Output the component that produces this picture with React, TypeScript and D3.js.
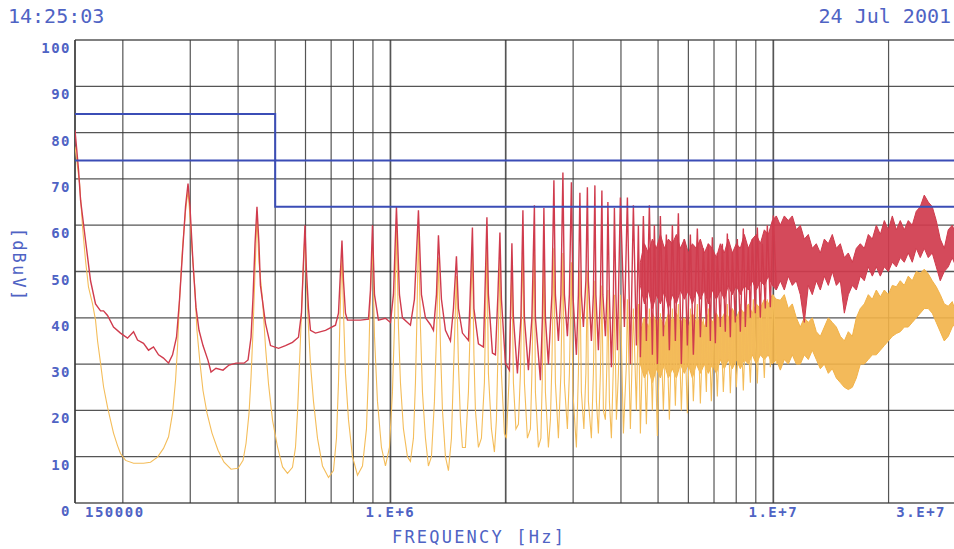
import * as d3 from "d3";

// header / titles
const timeStamp = "14:25:03";
const dateStamp = "24 Jul 2001";
const xTitle = "FREQUENCY [Hz]";
const yTitle = "[dBuV]";

const yTicks = [0, 10, 20, 30, 40, 50, 60, 70, 80, 90, 100];
// vertical grid lines, MHz
const gridFreqs = [0.2, 0.3, 0.4, 0.5, 0.6, 0.7, 0.8, 0.9, 1, 2, 3, 4, 5, 6, 7, 8, 9, 10, 20];
const xTickLabels = [
  { f: 0.15, label: "150000", anchor: "start", dx: 10 },
  { f: 1, label: "1.E+6", anchor: "middle", dx: 0 },
  { f: 10, label: "1.E+7", anchor: "middle", dx: 0 },
  { f: 30, label: "3.E+7", anchor: "end", dx: -10 },
];

// limit lines [MHz, dBuV]
const limitQP: [number, number][] = [[0.15, 84], [0.5, 84], [0.5, 74], [30, 74]];
const limitAV: [number, number][] = [[0.15, 74], [0.5, 74], [0.5, 64], [30, 64]];

// peak detector trace (red), [MHz, dBuV]
const peakTrace: [number, number][] = [
  [0.15, 80.5], [0.1532, 72], [0.1551, 65.4], [0.1598, 56.7], [0.1647, 48], [0.1697, 43], [0.1749, 41.5],
  [0.1781, 41.5], [0.1824, 40.5], [0.1891, 38], [0.1972, 36.7], [0.2057, 35.6], [0.2133, 37], [0.2185, 35.2],
  [0.2265, 34.5], [0.2334, 33], [0.2405, 33.7], [0.2479, 32], [0.2554, 31.3], [0.2633, 30.2], [0.2697, 32],
  [0.2762, 35.8], [0.2812, 43.8], [0.2863, 54], [0.2916, 64], [0.296, 69], [0.2995, 64], [0.3049, 52],
  [0.3105, 42.3], [0.3162, 37.3], [0.3239, 34], [0.3338, 30.8], [0.3399, 28.3], [0.3502, 29.1], [0.3653, 28.7],
  [0.3788, 29.8], [0.3951, 30.2], [0.4146, 30.2], [0.4247, 30.9], [0.4324, 35.8], [0.4376, 44.5], [0.4429, 56],
  [0.4481, 64], [0.4535, 56], [0.4575, 47], [0.4717, 38.8], [0.4861, 34], [0.5102, 33.4], [0.5319, 34],
  [0.5548, 34.7], [0.5751, 35.8], [0.5856, 41], [0.5927, 52], [0.598, 60], [0.6035, 50], [0.6108, 42],
  [0.6182, 37.3], [0.6371, 36.7], [0.6766, 37.3], [0.7185, 38.4], [0.7316, 41], [0.7404, 50], [0.7471, 56.7],
  [0.7539, 48], [0.763, 41], [0.7722, 39.5], [0.8349, 39.5], [0.8761, 39.7], [0.8867, 46], [0.8975, 60],
  [0.9084, 45], [0.9304, 39.5], [0.9704, 39.9], [1.0, 39], [1.0182, 45], [1.0367, 63.9], [1.0556, 45],
  [1.0748, 40], [1.1277, 38.4], [1.1551, 44], [1.1833, 63.2], [1.2049, 45], [1.2343, 40], [1.2719, 38.5],
  [1.2951, 37.3], [1.3187, 45], [1.3346, 57.8], [1.3589, 44], [1.392, 37.3], [1.4344, 35], [1.4605, 42],
  [1.4871, 53.3], [1.5051, 42], [1.5417, 36.7], [1.5983, 35.1], [1.6127, 43], [1.6371, 59.5], [1.652, 42],
  [1.6973, 34.4], [1.7491, 33.7], [1.7649, 45], [1.7863, 61.7], [1.8025, 45], [1.8464, 32.4], [1.88, 32],
  [1.9085, 45], [1.9316, 58.4], [1.9491, 44], [1.9965, 30.2], [2.0452, 28.7], [2.0574, 40], [2.076, 56.1],
  [2.0949, 40], [2.1458, 28], [2.1915, 40], [2.218, 63.2], [2.2381, 40], [2.2926, 28.7], [2.3412, 40],
  [2.3767, 64.3], [2.3911, 40], [2.4641, 26.5], [2.4938, 40], [2.5164, 63.7], [2.5393, 40], [2.5855, 30],
  [2.6405, 45], [2.6725, 69.7], [2.6967, 45], [2.7458, 35], [2.7873, 45], [2.8211, 71.4], [2.8466, 45],
  [2.8983, 36], [2.9334, 45], [2.9689, 69.3], [2.9958, 45], [3.0596, 32], [3.0966, 45], [3.1247, 67],
  [3.1528, 45], [3.191, 38], [3.2394, 48], [3.2687, 68.2], [3.2884, 48], [3.3483, 35], [3.3888, 45],
  [3.4195, 68.6], [3.4401, 45], [3.4922, 33], [3.5345, 45], [3.5665, 67.5], [3.588, 45], [3.6423, 36],
  [3.6753, 45], [3.6975, 65], [3.731, 45], [3.7764, 29.3], [3.8221, 45], [3.8452, 63.7], [3.88, 45],
  [3.9151, 33], [3.9863, 66], [4.0834, 38], [4.1577, 66], [4.2331, 30], [4.3101, 64.3], [4.3886, 34],
  [4.4417, 60], [4.4954, 31.5], [4.5772, 62], [4.6605, 35], [4.7453, 64.3], [4.8316, 32], [4.8901, 60],
  [4.9791, 30], [5.0697, 62], [5.162, 36], [5.2559, 58], [5.3516, 33], [5.449, 60], [5.5482, 35],
  [5.6491, 62.6], [5.7519, 30], [5.8566, 57], [5.9632, 34], [6.0717, 58], [6.1822, 32], [6.3325, 59.3],
  [6.4478, 35.8], [6.5651, 55], [6.6846, 38], [6.7654, 56], [6.8472, 35], [6.93, 57.4], [7.056, 34.5],
  [7.1413, 54], [7.2713, 38], [7.3592, 56], [7.493, 37], [7.5836, 58.2], [7.7216, 35.8], [7.8149, 54],
  [7.9571, 39], [8.0533, 57], [8.2, 37], [8.3491, 59.3], [8.45, 38], [8.6037, 55], [8.7097, 40], [8.815, 57],
  [8.9743, 41], [9.0828, 59.5], [9.2481, 40], [9.3599, 56], [9.5302, 42], [9.6454, 60], [9.8214, 42.3],
  [10.0, 62.1], [10.182, 46],
];

// average detector trace (orange), [MHz, dBuV]
const avgTrace: [number, number][] = [
  [0.15, 77], [0.1542, 69], [0.157, 59.5], [0.1598, 52.4], [0.1627, 46.6], [0.1667, 43], [0.1697, 39.5],
  [0.1718, 35], [0.1749, 30.2], [0.1781, 25.1], [0.1824, 20.7], [0.1857, 17.9], [0.1891, 15.1], [0.1937, 12.4],
  [0.1972, 10.7], [0.2033, 9.2], [0.2133, 8.6], [0.2265, 8.6], [0.2362, 8.8], [0.2464, 9.9], [0.2554, 11.8],
  [0.2633, 14.3], [0.2697, 19.4], [0.2746, 26.5], [0.2779, 33.7], [0.2812, 43.8], [0.2863, 55], [0.2916, 63],
  [0.296, 67.5], [0.2995, 62], [0.3031, 55], [0.3086, 46], [0.3123, 37.3], [0.3181, 30.2], [0.3239, 24.3],
  [0.3318, 19.4], [0.3419, 15.1], [0.3545, 11.4], [0.3675, 8.8], [0.3834, 7.3], [0.3999, 7.5], [0.4121, 9.2],
  [0.4196, 12.9], [0.4272, 19.4], [0.4324, 27.2], [0.4376, 37.3], [0.4429, 50], [0.4481, 62], [0.4535, 52],
  [0.4634, 43.8], [0.4717, 33.7], [0.4802, 25.8], [0.492, 17.9], [0.5071, 12.1], [0.5226, 7.8], [0.5384, 6.4],
  [0.5548, 7.7], [0.5649, 12], [0.5717, 19.4], [0.5786, 30], [0.5856, 41], [0.5927, 52], [0.598, 58],
  [0.6035, 47], [0.6108, 38], [0.6182, 30], [0.6294, 22], [0.6448, 14], [0.6645, 8], [0.6889, 5.5],
  [0.7099, 7], [0.7228, 14], [0.7316, 26], [0.7382, 40], [0.7471, 54], [0.7561, 38], [0.763, 28], [0.7769, 18],
  [0.7959, 10], [0.8202, 6], [0.8451, 8], [0.8656, 16], [0.8761, 28], [0.884, 42], [0.8975, 56], [0.9084, 36],
  [0.9248, 22], [0.9473, 12], [0.9704, 8], [0.994, 12], [1.0121, 24], [1.0243, 38], [1.0367, 60], [1.0493, 38],
  [1.062, 26], [1.0813, 16], [1.1076, 10], [1.1277, 9], [1.1482, 14], [1.1622, 26], [1.1727, 40], [1.1833, 59],
  [1.1977, 38], [1.2122, 24], [1.2343, 14], [1.2564, 8], [1.2795, 10], [1.3029, 22], [1.3187, 36], [1.3346, 53],
  [1.3508, 34], [1.3672, 20], [1.392, 10], [1.4173, 7], [1.4431, 14], [1.4605, 28], [1.4871, 49], [1.5051, 30],
  [1.5233, 18], [1.5417, 12], [1.5697, 12], [1.5983, 24], [1.6127, 36], [1.6371, 55], [1.652, 32], [1.667, 20],
  [1.6973, 12], [1.7282, 14], [1.7596, 26], [1.7863, 57], [1.8025, 28], [1.8353, 16], [1.8687, 11], [1.8913, 18],
  [1.9085, 32], [1.9316, 53], [1.9491, 28], [1.9845, 15], [2.0086, 14], [2.039, 26], [2.076, 51], [2.0949, 26],
  [2.1266, 16], [2.1588, 17], [2.1849, 28], [2.218, 56], [2.2381, 26], [2.2788, 14], [2.3203, 16], [2.3412, 28],
  [2.3767, 57], [2.3911, 24], [2.4346, 12], [2.4715, 14], [2.4938, 28], [2.5164, 55], [2.5393, 24], [2.5855, 12],
  [2.6168, 18], [2.6405, 30], [2.6725, 55], [2.6967, 26], [2.7458, 14], [2.7873, 28], [2.8211, 54], [2.8466, 26],
  [2.8983, 16], [2.9334, 28], [2.9689, 52], [2.9958, 24], [3.0596, 12], [3.0966, 28], [3.1247, 50], [3.1528, 24],
  [3.2006, 16], [3.2394, 28], [3.2687, 50], [3.2884, 22], [3.3483, 14], [3.3888, 28], [3.4195, 48], [3.4505, 22],
  [3.4922, 15], [3.5345, 28], [3.5665, 47], [3.5989, 20], [3.6423, 18], [3.6753, 30], [3.6975, 46], [3.731, 22],
  [3.7764, 14], [3.8221, 30], [3.8452, 45], [3.8917, 18], [3.9387, 28], [3.9863, 45], [4.0589, 15], [4.1328, 30],
  [4.1577, 44], [4.2331, 16], [4.3101, 42], [4.3886, 20], [4.4417, 43], [4.4954, 15], [4.5772, 40], [4.6605, 17],
  [4.7453, 42], [4.8316, 20], [4.8901, 40], [4.9791, 14.5], [5.0697, 41], [5.162, 20], [5.2559, 40], [5.3516, 18],
  [5.449, 42], [5.5482, 21], [5.6491, 43], [5.7519, 20], [5.8566, 40], [5.9632, 19.4], [6.0717, 42], [6.1822, 22],
  [6.3325, 43], [6.4478, 21.5], [6.5651, 40], [6.6846, 24], [6.7654, 42], [6.8885, 22], [7.0138, 41], [7.1413, 23],
  [7.2713, 42], [7.4035, 24], [7.5836, 43], [7.7216, 23.7], [7.862, 41], [8.005, 25], [8.2, 43], [8.3491, 24.3],
  [8.5009, 42], [8.7097, 26], [8.8681, 44], [9.0828, 25.8], [9.2481, 45], [9.4731, 27], [9.6454, 44],
  [9.8214, 29.3], [10.0, 45], [10.182, 30],
];

// from ~4.5 MHz up both traces merge into a dense band: upper / lower edge per frequency (MHz)
const bandFreqs = [
  4.495, 4.606, 4.717, 4.832, 4.95, 5.07, 5.193, 5.32, 5.449, 5.582, 5.718, 5.857, 6.0, 6.145, 6.295, 6.448,
  6.605, 6.766, 6.93, 7.099, 7.271, 7.448, 7.629, 7.815, 8.005, 8.2, 8.399, 8.604, 8.813, 9.028, 9.248, 9.473,
  9.704, 9.94, 10.182, 10.43, 10.684, 10.943, 11.21, 11.483, 11.762, 12.048, 12.342, 12.642, 12.95, 13.267,
  13.59, 13.92, 14.259, 14.607, 14.963, 15.327, 15.7, 16.082, 16.474, 16.874, 17.285, 17.706, 18.137, 18.579,
  19.031, 19.494, 19.969, 20.455, 20.953, 21.458, 21.98, 22.515, 23.064, 23.624, 24.2, 24.789, 25.391, 26.009,
  26.642, 27.29, 27.955, 28.635, 29.332, 30.0,
];
const peakBandHi = [
  52, 56, 54, 57, 55, 58, 55, 57, 56, 58, 55, 57, 54, 56, 55, 57, 54, 56, 55, 53, 56, 54, 57, 54, 56, 55, 58,
  55, 57, 58, 56, 59, 58, 61, 62, 60, 62, 61, 62, 59, 60, 57, 58, 55, 56, 54, 57, 56, 58, 55, 56, 53, 54, 52,
  55, 56, 55, 58, 57, 60, 58, 61, 59, 62, 59, 61, 59, 61, 60, 63, 64, 66.5, 65, 64, 61, 57, 55, 59, 60, 58,
];
const peakBandLo = [
  47, 43, 46, 42, 45, 43, 46, 42, 45, 43, 46, 44, 46, 43, 46, 44, 46, 43, 46, 44, 46, 44, 47, 45, 47, 45, 47,
  46, 48, 46, 48, 47, 49, 47, 46, 48, 46, 49, 47, 48, 45, 39, 47, 45, 48, 46, 49, 47, 50, 47, 48, 41, 45, 47,
  46, 49, 48, 51, 49, 51, 49, 51, 50, 52, 51, 53, 52, 54, 52, 55, 53, 55, 53, 54, 51, 48, 50, 51, 53, 51,
];
const avgBandHi = [
  37, 40, 38, 41, 39, 40, 38, 41, 39, 41, 39, 40, 38, 41, 39, 40, 38, 41, 39, 41, 39, 41, 40, 42, 40, 42, 41,
  43, 41, 43, 42, 44, 43, 45, 44, 43.8, 45, 42, 43, 40, 38, 40, 39, 40, 37, 36, 38, 40, 39, 38, 36, 35, 37,
  36, 40, 42, 43, 45, 44, 46, 44.5, 46, 45, 47, 46.7, 48, 47, 49, 48, 50, 49.6, 50.5, 49.5, 48, 46.7, 45, 43,
  42.5, 43.5, 41,
];
const avgBandLo = [
  30, 27, 29, 26, 29, 27, 30, 27, 29, 27, 30, 28, 30, 27, 30, 28, 30, 28, 30, 28, 31, 29, 31, 29, 31, 29, 31,
  30, 32, 30, 32, 31, 32, 30, 31, 28.7, 31, 30, 32, 30, 30, 32, 31, 33, 31, 29, 30, 28, 29, 27, 26, 25, 24.5,
  25, 27, 30, 30, 31, 32, 32, 33, 34, 35, 36, 36.6, 37, 38, 38, 39, 40, 41, 42, 42, 41, 39, 37, 35, 36, 38,
  38.9,
];

const W = 954;
const H = 549;
const plot = { left: 75, right: 956, top: 40, bottom: 503 };

const BLUE_TEXT = "#4f63c4";
const LIMIT = "#3b4db6";
const GRID = "#383838";
const RED = "#d03b4d";
const ORANGE = "#f2b248";
const ORANGE_LINE = "#f4bd5a";
const mono = "'DejaVu Sans Mono', monospace";

export default function App() {
  const x = d3.scaleLog().domain([0.15, 30]).range([plot.left, plot.right]);
  const y = d3.scaleLinear().domain([0, 100]).range([plot.bottom, plot.top]);

  const line = d3
    .line<[number, number]>()
    .x((d) => x(d[0]))
    .y((d) => y(d[1]));

  const band = (hi: number[], lo: number[]) =>
    d3
      .area<number>()
      .x((f) => x(f))
      .y0((_, i) => y(lo[i]))
      .y1((_, i) => y(hi[i]))(bandFreqs) || "";

  return (
    <svg
      width={W}
      height={H}
      style={{ position: "absolute", left: 0, top: 0, background: "#fff" }}
    >
      <defs>
        <clipPath id="plotClip">
          <rect x={plot.left} y={plot.top - 2} width={W - plot.left} height={plot.bottom - plot.top + 4} />
        </clipPath>
      </defs>

      {/* grid */}
      <g>
        {yTicks.map((t) => (
          <line
            key={"h" + t}
            x1={plot.left}
            x2={W}
            y1={y(t)}
            y2={y(t)}
            stroke={GRID}
            strokeWidth={t === 0 || t === 100 ? 1.6 : 1.3}
            opacity={0.85}
          />
        ))}
        {gridFreqs.map((f) => (
          <line
            key={"v" + f}
            x1={x(f)}
            x2={x(f)}
            y1={plot.top}
            y2={plot.bottom}
            stroke={GRID}
            strokeWidth={f === 1 || f === 10 || f === 2 ? 1.7 : 1.2}
            opacity={0.85}
          />
        ))}
        <line x1={plot.left} x2={plot.left} y1={plot.top} y2={plot.bottom} stroke={GRID} strokeWidth={1.7} />
      </g>

      {/* traces */}
      <g clipPath="url(#plotClip)">
        <path d={band(avgBandHi, avgBandLo)} fill={ORANGE} fillOpacity={0.9} stroke={ORANGE} strokeWidth={1} />
        <path d={line(avgTrace) || ""} fill="none" stroke={ORANGE_LINE} strokeWidth={1.1} />
        <path d={band(peakBandHi, peakBandLo)} fill={RED} fillOpacity={0.92} stroke={RED} strokeWidth={1} />
        <path d={line(peakTrace) || ""} fill="none" stroke={RED} strokeWidth={1.4} />
      </g>

      {/* limit lines */}
      <g clipPath="url(#plotClip)">
        <path d={line(limitQP) || ""} fill="none" stroke={LIMIT} strokeWidth={2} />
        <path d={line(limitAV) || ""} fill="none" stroke={LIMIT} strokeWidth={2} />
      </g>

      {/* y tick labels */}
      <g fontFamily={mono} fontSize={14} fill={BLUE_TEXT} fontWeight="bold">
        {yTicks.map((t) => (
          <text key={"yl" + t} x={71} y={y(t) + 13} textAnchor="end" letterSpacing={1.5}>
            {t}
          </text>
        ))}
      </g>

      {/* x tick labels */}
      <g fontFamily={mono} fontSize={14} fill={BLUE_TEXT} fontWeight="bold">
        {xTickLabels.map((t) => (
          <text
            key={t.label}
            x={x(t.f) + t.dx}
            y={plot.bottom + 14}
            textAnchor={t.anchor as any}
            letterSpacing={1.5}
          >
            {t.label}
          </text>
        ))}
      </g>

      {/* titles */}
      <text x={392} y={543} fontFamily={mono} fontSize={17} fill={BLUE_TEXT} letterSpacing={2.2}>
        {xTitle}
      </text>
      <text
        transform="translate(13,265) rotate(90)"
        textAnchor="middle"
        fontFamily={mono}
        fontSize={17}
        fill={BLUE_TEXT}
        letterSpacing={2.2}
      >
        {yTitle}
      </text>
      <text x={8} y={23} fontFamily={mono} fontSize={20} fill={BLUE_TEXT}>
        {timeStamp}
      </text>
      <text x={951} y={23} textAnchor="end" fontFamily={mono} fontSize={20} fill={BLUE_TEXT}>
        {dateStamp}
      </text>
    </svg>
  );
}
